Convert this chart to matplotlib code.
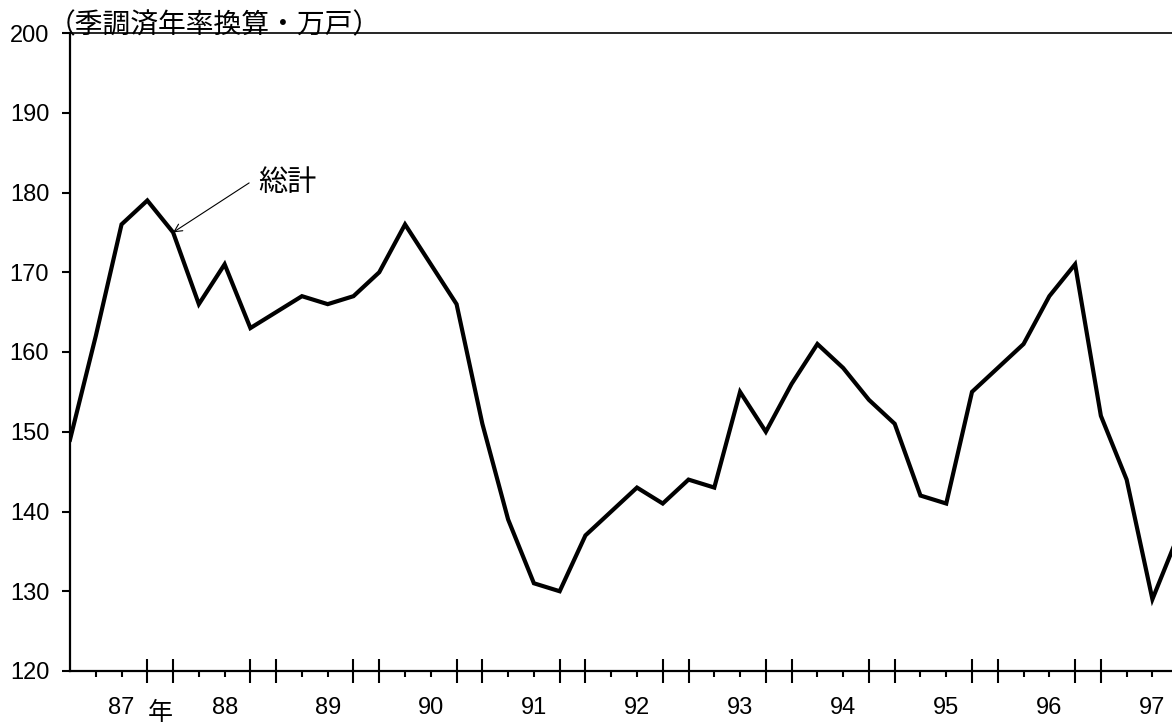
"""Housing starts (seasonally adjusted annual rate), quarterly, 1987-1997."""

import matplotlib

matplotlib.use("Agg")
import matplotlib.pyplot as plt
import numpy as np
from matplotlib.ticker import FixedLocator, NullFormatter

# quarterly values, 10k units (seasonally adjusted annual rate)
TOTAL = [149, 162, 176, 179, 175, 166, 171, 163, 165, 167, 166, 167, 170, 176,
         171, 166, 151, 139, 131, 130, 137, 140, 143, 141, 144, 143, 155, 150,
         156, 161, 158, 154, 151, 142, 141, 155, 158, 161, 167, 171, 152, 144,
         129, 137]
YEAR_LABELS = ["87", "88", "89", "90", "91", "92", "93", "94", "95", "96", "97"]
Y_TICKS = [120, 130, 140, 150, 160, 170, 180, 190, 200]
UNIT_LABEL = "（季調済年率換算・万戸）"
SERIES_LABEL = "総計"
YEAR_SUFFIX = "年"

W, H = 1172, 727
NUM_FONT = ["Liberation Sans", "DejaVu Sans"]
JP_FONT = ["Noto Sans CJK JP", "DejaVu Sans"]


def px(x, y):
    """Pixel position -> figure fraction."""
    return x / W, 1 - y / H


def main() -> None:
    n = len(TOTAL)
    quarters = np.arange(n)

    fig = plt.figure(figsize=(W / 100, H / 100), dpi=100)
    left, top = px(70, 33)
    _, bottom = px(0, 671)
    ax = fig.add_axes([left, bottom, 1.0 - left, top - bottom])

    ax.plot(quarters, TOTAL, color="black", linewidth=3.0, solid_joinstyle="miter")

    ax.set_xlim(0, 42.76)
    ax.set_ylim(Y_TICKS[0], Y_TICKS[-1])

    for side in ("left", "bottom"):
        ax.spines[side].set_linewidth(1.6)
    ax.spines["top"].set_linewidth(1.2)
    ax.spines["right"].set_visible(False)

    # y axis
    ax.set_yticks(Y_TICKS)
    ax.set_yticklabels([str(v) for v in Y_TICKS], family=NUM_FONT, fontsize=17)
    ax.tick_params(axis="y", direction="out", length=6, width=1.5, pad=9)

    # x axis: short ticks each quarter, labels at 2nd position of each year
    label_pos = [i for i in quarters if i % 4 == 2]
    long_pos = [i for i in quarters if i >= 3 and i % 4 in (0, 3)]
    short_pos = [i for i in quarters if i > 0 and i not in long_pos and i not in label_pos]
    ax.set_xticks(label_pos)
    ax.set_xticklabels(YEAR_LABELS[: len(label_pos)], family=NUM_FONT, fontsize=17)
    ax.xaxis.set_minor_locator(FixedLocator(short_pos))
    ax.tick_params(axis="x", which="major", direction="out", length=4.5, width=1.5, pad=14)
    ax.tick_params(axis="x", which="minor", direction="out", length=4.5, width=1.5)

    sec = ax.secondary_xaxis("bottom")
    sec.set_xticks(long_pos)
    sec.xaxis.set_major_formatter(NullFormatter())
    sec.spines["bottom"].set_visible(False)
    sec.tick_params(axis="x", direction="inout", length=17, width=1.5)

    # texts
    fig.text(*px(214, 25), UNIT_LABEL, family=JP_FONT, fontsize=20,
             ha="center", va="center")
    fig.text(*px(287, 183), SERIES_LABEL, family=JP_FONT, fontsize=21,
             ha="center", va="center")
    fig.text(*px(160, 713), YEAR_SUFFIX, family=JP_FONT, fontsize=18,
             ha="center", va="center")

    ax.annotate("", xy=(4, TOTAL[4]), xytext=(6.95, 181.2),
                arrowprops=dict(arrowstyle="->", color="black", lw=0.8,
                                shrinkA=0, shrinkB=0, mutation_scale=14))

    fig.savefig("out.png", dpi=100)
    plt.close(fig)


if __name__ == "__main__":
    main()
